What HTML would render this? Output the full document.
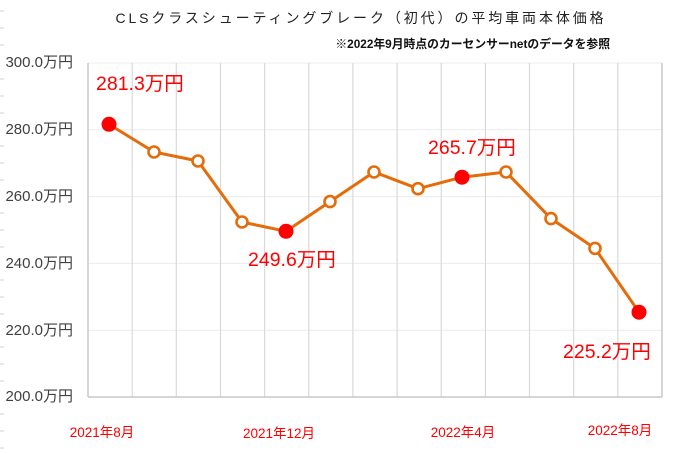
<!DOCTYPE html>
<html><head><meta charset="utf-8"><style>
html,body{margin:0;padding:0;background:#fff;}
svg{display:block;font-family:"Liberation Sans","Noto Sans CJK JP",sans-serif;}
</style></head><body>
<svg width="680" height="454" viewBox="0 0 680 454" xmlns="http://www.w3.org/2000/svg">
<rect width="680" height="454" fill="#fff"/>
<g stroke="#d0d0d0" stroke-width="1">
<line x1="0" y1="11" x2="4" y2="11"/><line x1="0" y1="28" x2="4" y2="28"/><line x1="0" y1="45" x2="4" y2="45"/>
<line x1="0" y1="79" x2="4" y2="79"/><line x1="0" y1="96" x2="4" y2="96"/><line x1="0" y1="113" x2="4" y2="113"/>
<line x1="0" y1="146" x2="4" y2="146"/><line x1="0" y1="163" x2="4" y2="163"/><line x1="0" y1="180" x2="4" y2="180"/>
<line x1="0" y1="213" x2="4" y2="213"/><line x1="0" y1="230" x2="4" y2="230"/><line x1="0" y1="247" x2="4" y2="247"/>
<line x1="0" y1="280" x2="4" y2="280"/><line x1="0" y1="297" x2="4" y2="297"/><line x1="0" y1="314" x2="4" y2="314"/>
<line x1="0" y1="347" x2="4" y2="347"/><line x1="0" y1="364" x2="4" y2="364"/><line x1="0" y1="381" x2="4" y2="381"/>
<line x1="0" y1="414" x2="4" y2="414"/><line x1="0" y1="431" x2="4" y2="431"/><line x1="0" y1="448" x2="4" y2="448"/>
</g>
<text x="361" y="23" text-anchor="middle" font-size="14" letter-spacing="2.9" fill="#222">CLSクラスシューティングブレーク（初代）の平均車両本体価格</text>
<text x="610" y="48" text-anchor="end" font-size="11.8" font-weight="bold" fill="#111">※2022年9月時点のカーセンサーnetのデータを参照</text>
<g stroke="#ececec" stroke-width="1">
<line x1="88" y1="63" x2="662" y2="63"/><line x1="88" y1="129.8" x2="662" y2="129.8"/>
<line x1="88" y1="196.6" x2="662" y2="196.6"/><line x1="88" y1="263.4" x2="662" y2="263.4"/>
<line x1="88" y1="330.2" x2="662" y2="330.2"/>
</g>
<g stroke="#d9d9d9" stroke-width="1.2">
<line x1="132.2" y1="63" x2="132.2" y2="397"/><line x1="176.3" y1="63" x2="176.3" y2="397"/>
<line x1="220.5" y1="63" x2="220.5" y2="397"/><line x1="264.6" y1="63" x2="264.6" y2="397"/>
<line x1="308.8" y1="63" x2="308.8" y2="397"/><line x1="352.9" y1="63" x2="352.9" y2="397"/>
<line x1="397.1" y1="63" x2="397.1" y2="397"/><line x1="441.2" y1="63" x2="441.2" y2="397"/>
<line x1="485.4" y1="63" x2="485.4" y2="397"/><line x1="529.5" y1="63" x2="529.5" y2="397"/>
<line x1="573.7" y1="63" x2="573.7" y2="397"/><line x1="617.8" y1="63" x2="617.8" y2="397"/>
</g>
<g stroke="#c8c8c8" stroke-width="1.5" fill="none">
<line x1="88" y1="63" x2="88" y2="397"/><line x1="662" y1="63" x2="662" y2="397"/>
<line x1="88" y1="397" x2="662" y2="397"/>
</g>
<g font-size="15" fill="#404040" text-anchor="end">
<text x="73" y="67">300.0万円</text><text x="73" y="134">280.0万円</text>
<text x="73" y="201">260.0万円</text><text x="73" y="268">240.0万円</text>
<text x="73" y="335">220.0万円</text><text x="73" y="401">200.0万円</text>
</g>
<g font-size="13.5" fill="#ff0000" text-anchor="middle">
<text x="102" y="437">2021年8月</text><text x="279" y="438">2021年12月</text>
<text x="463" y="437">2022年4月</text><text x="620" y="435">2022年8月</text>
</g>
<polyline fill="none" stroke="#e46c0a" stroke-width="3" stroke-linejoin="round"
points="109,124.3 154,152 198,161 242,222 286,231.3 330,201.6 374,172 418,188.7 462,177.2 506,172 551,218.6 595,248.4 639,312.2"/>
<g fill="#fff" stroke="#e46c0a" stroke-width="2.6">
<circle cx="154" cy="152" r="5.5"/><circle cx="198" cy="161" r="5.5"/>
<circle cx="242" cy="222" r="5.5"/><circle cx="330" cy="201.6" r="5.5"/>
<circle cx="374" cy="172" r="5.5"/><circle cx="418" cy="188.7" r="5.5"/>
<circle cx="506" cy="172" r="5.5"/><circle cx="551" cy="218.6" r="5.5"/>
<circle cx="595" cy="248.4" r="5.5"/>
</g>
<g fill="#ff0000">
<circle cx="109" cy="124.3" r="7.5"/><circle cx="286" cy="231.3" r="7.5"/>
<circle cx="462" cy="177.2" r="7.5"/><circle cx="639" cy="312.2" r="7.5"/>
</g>
<g font-size="19.5" fill="#ff0000">
<text x="96" y="90">281.3万円</text>
<text x="248" y="266">249.6万円</text>
<text x="428" y="154">265.7万円</text>
<text x="563" y="358">225.2万円</text>
</g>
</svg>
</body></html>
